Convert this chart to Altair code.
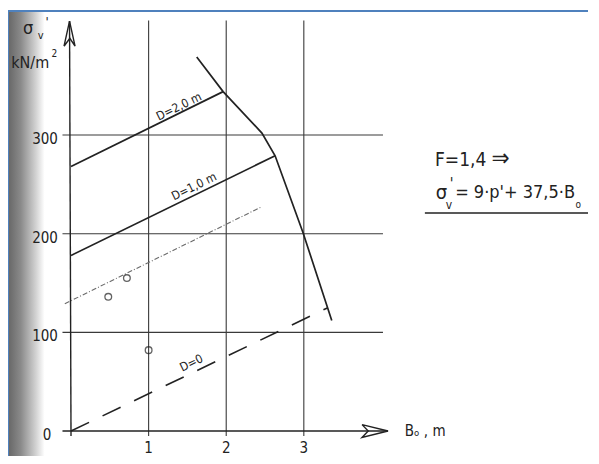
import altair as alt
import pandas as pd

# ---------------- values ----------------
# grid
grid_B = [1, 2, 3]
grid_S = [100, 200, 300]
x_ticks = [1, 2, 3]
y_ticks = [0, 100, 200, 300]

# D = 2.0 m line
d2_B = [0.0, 1.96]
d2_S = [268, 344]
# D = 1.0 m line
d1_B = [0.0, 2.63]
d1_S = [178, 279]
# D = 0 (dashed)
d0_B = [0.0, 3.31]
d0_S = [0, 125]
# thin dash-dot line
dot_B = [-0.08, 2.45]
dot_S = [129, 227]
# limiting (steep) line
lim_B = [1.62, 1.96, 2.46, 2.63, 2.99, 3.36]
lim_S = [379, 344, 302, 279, 201, 112]
# hand-drawn small circles
pts_B = [0.48, 0.72, 1.0]
pts_S = [136, 155, 82]

# ---------------- frame / scale set-up ----------------
XMIN, XMAX = -0.812, 6.662
YMIN, YMAX = -25.3, 425.7
INK = "#222222"
FONT = "DejaVu Sans Condensed"

xs = alt.Scale(domain=[XMIN, XMAX], nice=False, zero=False)
ys = alt.Scale(domain=[YMIN, YMAX], nice=False, zero=False)


def X(f="B"):
    return alt.X(f"{f}:Q", scale=xs, axis=None)


def Y(f="S"):
    return alt.Y(f"{f}:Q", scale=ys, axis=None)


# left scanner shading strip
shade = pd.DataFrame({"B": [XMIN], "B2": [-0.34], "S": [YMIN], "S2": [YMAX]})
shade_layer = alt.Chart(shade).mark_rect(
    color=alt.LinearGradient(
        gradient="linear",
        stops=[
            alt.GradientStop(color="#666666", offset=0),
            alt.GradientStop(color="#8a8a8a", offset=0.35),
            alt.GradientStop(color="#d0d0d0", offset=0.75),
            alt.GradientStop(color="#ffffff", offset=1),
        ],
        x1=0, x2=1, y1=0, y2=0,
    )
).encode(x=X(), x2="B2:Q", y=Y(), y2="S2:Q")

# blue frame (top and left)
frame = pd.DataFrame({
    "B": [XMIN, XMIN], "B2": [XMAX, XMIN],
    "S": [YMAX, YMIN], "S2": [YMAX, YMAX],
})
frame_layer = alt.Chart(frame).mark_rule(color="#4f81bd", strokeWidth=2).encode(
    x=X(), x2="B2:Q", y=Y(), y2="S2:Q")

# grid lines
vgrid = pd.DataFrame({"B": grid_B, "S": [-5] * len(grid_B), "S2": [416] * len(grid_B)})
hgrid = pd.DataFrame({"S": grid_S, "B": [-0.11] * len(grid_S), "B2": [4.02] * len(grid_S)})
vgrid_layer = alt.Chart(vgrid).mark_rule(color="#3a3a3a", strokeWidth=1.1).encode(
    x=X(), y=Y(), y2="S2:Q")
hgrid_layer = alt.Chart(hgrid).mark_rule(color="#3a3a3a", strokeWidth=1.1).encode(
    y=Y(), x=X(), x2="B2:Q")

# axes with open arrow heads
axes_rows = []
for i, (b, s) in enumerate([(0.0, -5), (-0.019, 415.5)]):
    axes_rows.append(("yaxis", i, b, s))
for i, (b, s) in enumerate([(-0.11, 0), (4.085, 0)]):
    axes_rows.append(("xaxis", i, b, s))
for i, (b, s) in enumerate([(-0.09, 390), (-0.019, 415.5), (0.052, 390), (-0.015, 398), (-0.09, 390)]):
    axes_rows.append(("yarrow", i, b, s))
for i, (b, s) in enumerate([(3.75, 6.5), (4.085, 0), (3.75, -6.5), (3.83, 0), (3.75, 6.5)]):
    axes_rows.append(("xarrow", i, b, s))
axes = pd.DataFrame(axes_rows, columns=["id", "o", "B", "S"])
axes_layer = alt.Chart(axes).mark_line(color=INK, strokeWidth=1.4).encode(
    x=X(), y=Y(), detail="id:N", order="o:Q")

# solid curves
solid_rows = []
for name, bb, ss in [("D2", d2_B, d2_S), ("D1", d1_B, d1_S), ("lim", lim_B, lim_S)]:
    for i, (b, s) in enumerate(zip(bb, ss)):
        solid_rows.append((name, i, b, s))
solid = pd.DataFrame(solid_rows, columns=["id", "o", "B", "S"])
solid_layer = alt.Chart(solid).mark_line(color=INK, strokeWidth=1.7).encode(
    x=X(), y=Y(), detail="id:N", order="o:Q")

d0 = pd.DataFrame({"B": d0_B, "S": d0_S})
d0_layer = alt.Chart(d0).mark_line(color=INK, strokeWidth=1.6, strokeDash=[20, 15]).encode(
    x=X(), y=Y())

dot = pd.DataFrame({"B": dot_B, "S": dot_S})
dot_layer = alt.Chart(dot).mark_line(color="#6a6a6a", strokeWidth=1.1, strokeDash=[5, 2, 1, 2]).encode(
    x=X(), y=Y())

pts = pd.DataFrame({"B": pts_B, "S": pts_S})
pts_layer = alt.Chart(pts).mark_point(shape="circle", filled=False, size=45, strokeWidth=1.3,
                                       color=INK).encode(x=X(), y=Y())

# tick labels
ylab = pd.DataFrame({"t": [str(v) for v in y_ticks],
                     "B": [-0.31, -0.335, -0.335, -0.335],
                     "S": [v - 4 for v in y_ticks]})
ylab_layer = alt.Chart(ylab).mark_text(font=FONT, fontSize=15, color=INK, align="center",
                                       baseline="middle").encode(x=X(), y=Y(), text="t:N")
xlab = pd.DataFrame({"t": [str(v) for v in x_ticks], "B": x_ticks, "S": [-17] * len(x_ticks)})
xlab_layer = alt.Chart(xlab).mark_text(font=FONT, fontSize=15, color=INK, align="center",
                                       baseline="middle").encode(x=X(), y=Y(), text="t:N")

# line labels (rotated along the lines)
line_lab = pd.DataFrame({"t": ["D=2,0 m", "D=1,0 m", "D=0"],
                         "B": [1.39, 1.585, 1.55], "S": [329, 248, 69]})
line_lab_layer = alt.Chart(line_lab).mark_text(font=FONT, fontSize=12, color=INK, angle=334,
                                               align="center", baseline="middle").encode(
    x=X(), y=Y(), text="t:N")

# other annotations (left aligned), with individual sizes
ann = pd.DataFrame({
    "t": ["σ", "v", "'", "kN/m", "2", "Bₒ , m",
          "F=1,4", "⇒", "σ", "v", "'", "= 9·p'+ 37,5·B", "o"],
    "B": [-0.62, -0.43, -0.33, -0.77, -0.25, 4.30,
          4.69, 5.42, 4.70, 4.83, 4.88, 4.95, 6.50],
    "S": [407, 400, 415, 373, 382, 0,
          275, 276, 241, 229, 250, 241, 229],
    "size": [18, 11, 13, 16, 10, 15,
             19, 24, 20, 12, 15, 18, 10],
})
ann_layer = alt.Chart(ann).mark_text(font=FONT, color=INK, align="left", baseline="middle").encode(
    x=X(), y=Y(), text="t:N", size=alt.Size("size:Q", scale=None, legend=None))

underline = pd.DataFrame({"B": [4.56], "B2": [6.80], "S": [221]})
underline_layer = alt.Chart(underline).mark_rule(color=INK, strokeWidth=1.3).encode(
    x=X(), x2="B2:Q", y=Y())

chart = alt.layer(
    shade_layer, frame_layer, vgrid_layer, hgrid_layer, axes_layer,
    dot_layer, d0_layer, solid_layer, pts_layer,
    ylab_layer, xlab_layer, line_lab_layer, ann_layer, underline_layer,
).properties(
    width=580, height=445,
    padding={"left": 0, "top": 3, "right": 0, "bottom": 0},
    autosize=alt.AutoSizeParams(type="none"),
    background="white",
).configure_view(stroke=None)

chart.save("out.html", embed_options={"renderer": "svg", "actions": False})
